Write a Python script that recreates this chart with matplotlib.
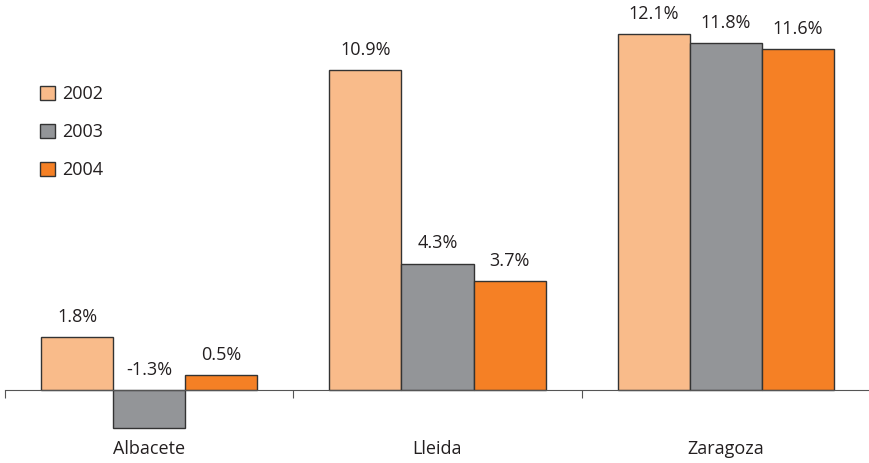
import matplotlib
matplotlib.use('Agg')
import matplotlib.pyplot as plt
import numpy as np
from matplotlib.patches import Patch

cities = ['Albacete', 'Lleida', 'Zaragoza']
years = ['2002', '2003', '2004']
v2002 = [1.8, 10.9, 12.1]
v2003 = [-1.3, 4.3, 11.8]
v2004 = [0.5, 3.7, 11.6]
labels_2002 = ['1.8%', '10.9%', '12.1%']
labels_2003 = ['-1.3%', '4.3%', '11.8%']
labels_2004 = ['0.5%', '3.7%', '11.6%']

colors = ['#F9BB8A', '#939598', '#F58025']

plt.rcParams['font.family'] = ['Open Sans', 'DejaVu Sans']

fig = plt.figure(figsize=(8.69, 4.63), dpi=100)
ax = fig.add_axes([5 / 869, 29 / 463, 865 / 869, 426 / 463])

x = np.arange(len(cities))
w = 0.25
series = [(v2002, labels_2002), (v2003, labels_2003), (v2004, labels_2004)]
for i, (vals, labs) in enumerate(series):
    pos = x + (i - 1) * w
    ax.bar(pos, vals, width=w, color=colors[i], edgecolor='#333333', linewidth=1)
    for p, v, t in zip(pos, vals, labs):
        ax.annotate(t, (p, max(v, 0)), xytext=(0, 8), textcoords='offset points',
                    ha='center', va='bottom', fontsize=13, color='#231F20')

ax.set_xlim(-0.5, 2.5)
ax.set_ylim(-1.5, 13)

# axis line at zero with tick marks between groups
for s in ax.spines.values():
    s.set_visible(False)
ax.spines['bottom'].set_visible(True)
ax.spines['bottom'].set_position(('data', 0))
ax.spines['bottom'].set_color('#555555')
ax.set_yticks([])
ax.set_xticks([-0.5, 0.5, 1.5, 2.5])
ax.set_xticklabels([])
ax.tick_params(axis='x', direction='out', length=6, color='#555555')

for xi, c in zip(x, cities):
    ax.text(xi, -2.0, c, ha='center', va='center', fontsize=13, color='#231F20')

handles = [Patch(facecolor=colors[i], edgecolor='#333333', label=years[i]) for i in range(3)]
ax.legend(handles=handles, loc='upper left', bbox_to_anchor=(0.022, 0.857), frameon=False,
          handlelength=0.8, handleheight=0.8, handletextpad=0.4, labelspacing=1.1,
          fontsize=13, labelcolor='#231F20')

fig.savefig('out.png', dpi=100)
